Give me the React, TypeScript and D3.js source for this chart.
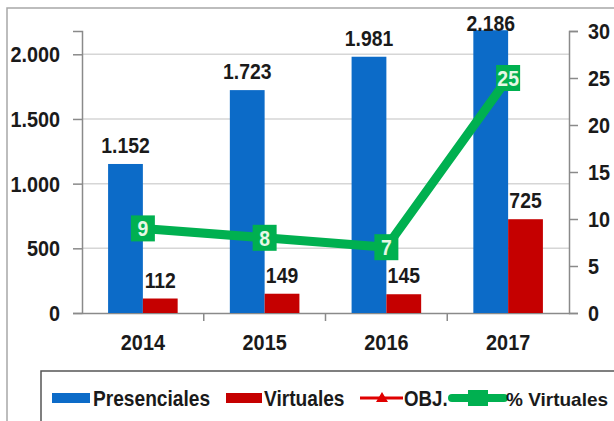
import React, { useEffect, useRef } from "react";
import * as d3 from "d3";

const years = ["2014", "2015", "2016", "2017"];
const presenciales = [1152, 1723, 1981, 2186];
const virtuales = [112, 149, 145, 725];
const pctVirtuales = [9, 8, 7, 25];
const leftTicks = [0, 500, 1000, 1500, 2000];
const rightTicks = [0, 5, 10, 15, 20, 25, 30];

const FONT = "'Liberation Sans', Arial, sans-serif";
const BLUE = "#0C6BC8";
const RED = "#C50000";
const GREEN = "#00B050";

const fmt = (v: number) => d3.format(",")(v).replace(/,/g, ".");

// squeeze text horizontally so it looks like the narrow bold font of the original
function condense(sel: d3.Selection<any, any, any, any>, k: number) {
  sel.each(function () {
    const t = this as SVGTextElement;
    const w = t.getComputedTextLength();
    t.setAttribute("textLength", String(w * k));
    t.setAttribute("lengthAdjust", "spacingAndGlyphs");
  });
}

export default function App() {
  const ref = useRef<SVGSVGElement>(null);

  useEffect(() => {
    const svg = d3.select(ref.current);
    svg.selectAll("*").remove();

    const left = 82, right = 569, top = 31, bottom = 313;

    svg.append("rect").attr("width", 614).attr("height", 421).attr("fill", "#fff");
    // outer frame
    svg.append("rect")
      .attr("x", 7).attr("y", 8).attr("width", 640).attr("height", 440)
      .attr("fill", "none").attr("stroke", "#a8a8a8").attr("stroke-width", 1.5);

    const x = d3.scaleBand().domain(years).range([left, right]);
    const y = d3.scaleLinear().domain([0, 2180]).range([bottom, top]);
    const y2 = d3.scaleLinear().domain([0, 30]).range([bottom, top]);
    const barW = x.bandwidth() / 3.5;

    // gridlines
    svg.append("g").selectAll("line")
      .data(leftTicks.slice(1))
      .enter().append("line")
      .attr("x1", left).attr("x2", right)
      .attr("y1", d => y(d)).attr("y2", d => y(d))
      .attr("stroke", "#d6d6d6").attr("stroke-width", 1.5);

    // left axis
    const gl = svg.append("g").attr("transform", `translate(${left},0)`)
      .call(d3.axisLeft(y).tickValues(leftTicks).tickSize(9).tickPadding(13).tickFormat(d => fmt(d as number)));
    // right axis
    const gr = svg.append("g").attr("transform", `translate(${right},0)`)
      .call(d3.axisRight(y2).tickValues(rightTicks).tickSize(9).tickPadding(10));
    // bottom axis
    const gb = svg.append("g").attr("transform", `translate(0,${bottom})`)
      .call(d3.axisBottom(x).tickSize(0).tickPadding(21));
    gb.selectAll(".tick").filter((_, i) => i > 0).append("line")
      .attr("x1", -x.bandwidth() / 2).attr("x2", -x.bandwidth() / 2)
      .attr("y1", 0).attr("y2", 8).attr("stroke", "#8a8a8a").attr("stroke-width", 1.5);

    [gl, gr, gb].forEach(g => {
      g.select(".domain").attr("stroke", "#8a8a8a").attr("stroke-width", 1.5);
      g.selectAll(".tick line").attr("stroke", "#8a8a8a").attr("stroke-width", 1.5);
      g.selectAll("text")
        .attr("fill", "#1a1a1a")
        .attr("dy", "0.34em")
        .style("font-family", FONT)
        .style("font-weight", "bold")
        .style("font-size", "22px");
      condense(g.selectAll("text"), 0.9);
    });
    gb.selectAll("text").attr("dy", "0.72em");

    // bars
    const bars = svg.append("g");
    bars.selectAll(".pres").data(years).enter().append("rect")
      .attr("x", d => (x(d) as number) + x.bandwidth() / 2 - barW)
      .attr("width", barW)
      .attr("y", (_, i) => y(presenciales[i]))
      .attr("height", (_, i) => bottom - y(presenciales[i]))
      .attr("fill", BLUE);
    bars.selectAll(".virt").data(years).enter().append("rect")
      .attr("x", d => (x(d) as number) + x.bandwidth() / 2)
      .attr("width", barW)
      .attr("y", (_, i) => y(virtuales[i]))
      .attr("height", (_, i) => bottom - y(virtuales[i]))
      .attr("fill", RED);

    const labels = svg.append("g")
      .attr("text-anchor", "middle")
      .style("font-family", FONT).style("font-weight", "bold").style("font-size", "22px")
      .attr("fill", "#1a1a1a");
    labels.selectAll(".lp").data(years).enter().append("text")
      .attr("x", d => (x(d) as number) + x.bandwidth() / 2 - barW / 2)
      .attr("y", (_, i) => Math.max(y(presenciales[i]) - 11, 31))
      .text((_, i) => fmt(presenciales[i]));
    labels.selectAll(".lv").data(years).enter().append("text")
      .attr("x", d => (x(d) as number) + x.bandwidth() / 2 + barW / 2)
      .attr("y", (_, i) => y(virtuales[i]) - 11)
      .text((_, i) => fmt(virtuales[i]));
    condense(labels.selectAll("text"), 0.88);

    // % virtuales line
    const cx = (d: string) => (x(d) as number) + x.bandwidth() / 2;
    const line = d3.line<number>().x((_, i) => cx(years[i])).y(d => y2(d));
    svg.append("path").datum(pctVirtuales)
      .attr("d", line).attr("fill", "none")
      .attr("stroke", GREEN).attr("stroke-width", 9).attr("stroke-linejoin", "round");
    const m = svg.append("g").selectAll("g").data(pctVirtuales).enter().append("g")
      .attr("transform", (d, i) => `translate(${cx(years[i])},${y2(d)})`);
    m.append("rect").attr("x", -12).attr("y", -13).attr("width", 24).attr("height", 26).attr("fill", GREEN);
    m.append("text").attr("text-anchor", "middle").attr("y", 8)
      .style("font-family", FONT).style("font-weight", "bold").style("font-size", "22px")
      .attr("fill", "#e6f8e6").text(d => d);
    condense(m.selectAll("text"), 0.88);

    // legend
    const lg = svg.append("g");
    lg.append("rect").attr("x", 41).attr("y", 371).attr("width", 620).attr("height", 100)
      .attr("fill", "#fff").attr("stroke", "#555").attr("stroke-width", 1.5);
    const ly = 398;
    const lt = (xx: number, s: string, k: number, size = 22) => {
      const t = lg.append("text").attr("x", xx).attr("y", ly + 8)
        .style("font-family", FONT).style("font-weight", "bold").style("font-size", `${size}px`)
        .attr("fill", "#1a1a1a").text(s);
      if (k < 1) condense(t, k);
    };
    lg.append("rect").attr("x", 52).attr("y", ly - 5).attr("width", 38).attr("height", 10).attr("fill", BLUE);
    lt(93, "Presenciales", 0.87);
    lg.append("rect").attr("x", 226).attr("y", ly - 5).attr("width", 36).attr("height", 10).attr("fill", RED);
    lt(264, "Virtuales", 0.87);
    lg.append("line").attr("x1", 360).attr("x2", 403).attr("y1", ly).attr("y2", ly)
      .attr("stroke", "#E00000").attr("stroke-width", 3);
    lg.append("path").attr("d", `M${382},${ly - 6}L${388},${ly + 4}L${376},${ly + 4}Z`).attr("fill", "#E00000");
    lt(404, "OBJ.", 0.85);
    lg.append("line").attr("x1", 452).attr("x2", 504).attr("y1", ly).attr("y2", ly)
      .attr("stroke", GREEN).attr("stroke-width", 8).attr("stroke-linecap", "round");
    lg.append("rect").attr("x", 468).attr("y", ly - 8).attr("width", 20).attr("height", 16).attr("fill", GREEN);
    lt(506, "% Virtuales", 1, 19);
  }, []);

  return (
    <svg ref={ref} width={614} height={421} style={{ position: "absolute", left: 0, top: 0 }} />
  );
}
